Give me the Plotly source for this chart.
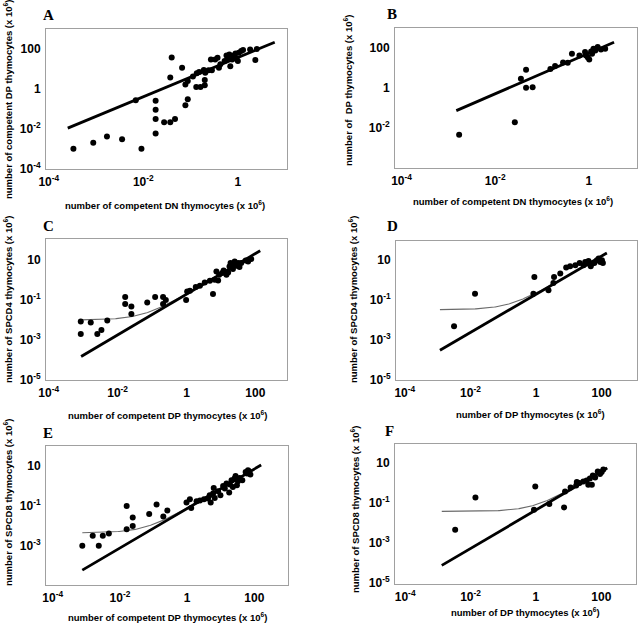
import numpy as np
import plotly.graph_objects as go

# ---------------- data (log10 of cell numbers, x 10^6) ----------------
a_x = [-3.48, -3.06, -2.77, -2.45, -2.04, -2.16, -1.74, -1.74, -1.74, -1.74, -1.56, -1.43,
       -1.33, -1.40, -1.43, -1.18, -1.11, -1.06, -1.11, -1.06, -0.88, -0.79, -0.70, -0.70,
       -0.95, -0.87, -0.82, -0.72, -0.69, -0.62, -0.57, -0.55, -0.48, -0.43, -0.40, -0.37,
       -0.28, -0.24, -0.21, -0.18, -0.16, -0.12, -0.09, -0.05, -0.03, 0.00, 0.02, 0.07,
       0.11, 0.26, 0.40, 0.37]
a_y = [-3.01, -2.71, -2.40, -2.53, -3.01, -0.58, -0.61, -1.06, -1.52, -2.25, -1.69, -1.69,
       -1.52, 1.55, 0.55, 1.04, -0.83, -0.53, 0.20, 0.38, 0.08, 0.08, 0.17, 0.43,
       0.60, 0.76, 0.83, 0.93, 0.79, 0.91, 1.45, 0.91, 1.45, 1.54, 1.04, 1.21,
       1.37, 1.65, 1.49, 1.70, 1.12, 1.45, 1.65, 1.75, 1.49, 1.37, 1.79, 1.87,
       1.92, 1.95, 1.98, 1.42]
a_fit = dict(slope=0.98, intercept=1.55, x0=-3.60, x1=0.78)

b_x = [-2.77, -1.58, -1.45, -1.34, -1.34, -1.20, -0.82, -0.72, -0.55, -0.45, -0.36, -0.20,
       -0.08, -0.06, -0.02, 0.01, 0.05, 0.07, 0.10, 0.14, 0.19, 0.26, 0.35]
b_y = [-2.32, -1.70, 0.47, 0.92, 0.02, 0.05, 0.95, 1.10, 1.28, 1.27, 1.72, 1.63,
       1.80, 1.63, 1.53, 1.43, 1.83, 1.72, 1.97, 1.88, 2.05, 1.93, 1.97]
b_fit = dict(slope=1.01, intercept=1.74, x0=-2.83, x1=0.54)

c_x = [-3.07, -3.07, -2.78, -2.59, -2.47, -2.30, -1.78, -1.78, -1.60, -1.60, -1.14, -0.91,
       -0.68, -0.68, -0.60, -0.01, 0.02, 0.10, 0.27, 0.39, 0.53, 0.68, 0.77, 0.82,
       0.87, 0.95, 0.92, 1.04, 1.08, 1.16, 1.21, 1.25, 1.28, 1.33, 1.37, 1.40,
       1.45, 1.50, 1.54, 1.72, 1.79, 1.88, 1.35, 1.59]
c_y = [-2.10, -2.72, -2.15, -2.72, -2.52, -2.05, -0.88, -1.22, -1.35, -1.72, -1.15, -0.88,
       -0.88, -1.22, -1.02, -1.02, -0.60, -0.57, -0.38, -0.32, -0.15, -0.07, -0.72, -0.02,
       0.40, 0.23, -0.05, 0.32, 0.45, 0.23, 0.35, 0.65, 0.82, 0.57, 0.77, 0.90,
       0.68, 0.82, 0.62, 0.95, 0.90, 1.02, 0.52, 0.82]
c_fit = dict(slope=1.015, intercept=-0.74, x0=-3.06, x1=2.14, floor=0.0095)

d_x = [-2.50, -1.86, -0.05, -0.08, 0.38, 0.55, 0.53, 0.74, 0.92, 1.04, 1.20, 1.33,
       1.45, 1.50, 1.55, 1.60, 1.67, 1.70, 1.78, 1.86, 1.91, 1.96, 2.01, 2.04]
d_y = [-2.31, -0.68, 0.16, -0.68, -0.51, 0.16, -0.14, 0.33, 0.63, 0.69, 0.74, 0.86,
       0.74, 0.91, 0.83, 0.96, 0.69, 0.83, 0.86, 0.99, 1.08, 0.91, 0.99, 0.86]
d_fit = dict(slope=0.957, intercept=-0.71, x0=-2.93, x1=2.16, floor=0.033)

e_x = [-3.12, -2.81, -2.63, -2.51, -2.33, -1.80, -1.80, -1.62, -1.62, -1.13, -0.91, -0.71,
       -0.59, -0.02, 0.08, 0.12, 0.28, 0.38, 0.50, 0.62, 0.67, 0.70, 0.77, 0.79,
       0.82, 0.92, 0.99, 1.07, 1.12, 1.17, 1.25, 1.27, 1.32, 1.36, 1.41, 1.44,
       1.48, 1.51, 1.56, 1.64, 1.74, 1.78, 1.84, 1.88, 1.81]
e_y = [-3.01, -2.51, -3.01, -2.51, -2.39, -1.01, -2.18, -1.59, -2.01, -1.41, -0.94, -1.54,
       -1.24, -0.84, -0.68, -1.11, -0.78, -0.74, -0.68, -0.64, -0.48, -0.84, -0.39, -0.11,
       -0.61, -0.28, -0.48, -0.01, -0.14, 0.11, -0.34, 0.06, 0.28, -0.06, 0.36, 0.49,
       0.03, 0.23, 0.39, 0.28, 0.69, 0.61, 0.73, 0.56, 0.78]
e_fit = dict(slope=0.989, intercept=-1.14, x0=-3.12, x1=2.20, floor=0.0044)

f_x = [-2.47, -1.85, -0.02, -0.06, 0.41, 0.86, 0.89, 1.06, 1.23, 1.25, 1.33, 1.45,
       1.55, 1.60, 1.65, 1.71, 1.74, 1.81, 1.89, 1.96, 2.01, 2.06]
f_y = [-2.33, -0.71, -0.16, -1.33, -1.04, -1.21, -0.41, -0.21, -0.11, 0.06, 0.01, 0.09,
       0.13, -0.08, 0.23, -0.08, 0.38, 0.29, 0.59, 0.46, 0.56, 0.68]
f_fit = dict(slope=0.962, intercept=-1.34, x0=-2.88, x1=2.18, floor=0.039)

xt_ab = [1e-4, 1e-2, 1]
xt_ab_text = ["10<sup>-4</sup>", "10<sup>-2</sup>", "1"]
yt_ab = [1e-4, 1e-2, 1, 100]
yt_ab_text = ["10<sup>-4</sup>", "10<sup>-2</sup>", "1", "100"]
xt_cf = [1e-4, 1e-2, 1, 100]
xt_cf_text = ["10<sup>-4</sup>", "10<sup>-2</sup>", "1", "100"]
yt_cf = [1e-5, 1e-3, 1e-1, 10]
yt_cf_text = ["10<sup>-5</sup>", "10<sup>-3</sup>", "10<sup>-1</sup>", "10"]

panels = [
    dict(letter="A", x=a_x, y=a_y, fit=a_fit,
         xtitle="number of competent DN thymocytes (x 10<sup>6</sup>)",
         ytitle="number of competent DP thymocytes (x 10<sup>6</sup>)"),
    dict(letter="B", x=b_x, y=b_y, fit=b_fit,
         xtitle="number of competent DN thymocytes (x 10<sup>6</sup>)",
         ytitle="number of  DP thymocytes (x 10<sup>6</sup>)"),
    dict(letter="C", x=c_x, y=c_y, fit=c_fit,
         xtitle="number of competent DP thymocytes (x 10<sup>6</sup>)",
         ytitle="number of SPCD4 thymocytes (x 10<sup>6</sup>)"),
    dict(letter="D", x=d_x, y=d_y, fit=d_fit,
         xtitle="number of DP thymocytes (x 10<sup>6</sup>)",
         ytitle="number of SPCD4 thymocytes (x 10<sup>6</sup>)"),
    dict(letter="E", x=e_x, y=e_y, fit=e_fit,
         xtitle="number of competent DP thymocytes (x 10<sup>6</sup>)",
         ytitle="number of SPCD8 thymocytes (x 10<sup>6</sup>)"),
    dict(letter="F", x=f_x, y=f_y, fit=f_fit,
         xtitle="number of DP thymocytes (x 10<sup>6</sup>)",
         ytitle="number of SPCD8 thymocytes (x 10<sup>6</sup>)"),
]

# ---------------- layout geometry (pixels) ----------------
W, H = 640, 625
boxes = [(46, 287, 29, 169), (395, 637, 28, 168), (46, 287, 239, 380),
         (396, 637, 241, 380), (46, 288, 446, 585), (395, 636, 444, 584)]
xranges = [(-4.06, 1.04), (-4.14, 1.03), (-4.08, 2.92), (-4.27, 3.08), (-4.2, 3.0), (-4.31, 3.06)]
yranges = [(-4.02, 2.975), (-3.98, 3.0), (-5.02, 2.02), (-5.0, 1.96), (-4.97, 1.99), (-5.04, 1.96)]
xtitle_pos = [(165, 205), (513, 201), (167, 415), (530, 414), (167, 617), (525, 612)]
ytitle_pos = [(8, 100), (348, 91), (8, 300), (353, 300), (8, 503), (355, 510)]
letter_pos = [(48, 15), (392, 14), (48, 226), (392, 226), (48, 433), (389, 431)]

fig = go.Figure()
layout = dict(template="none", width=W, height=H, margin=dict(l=0, r=0, t=0, b=0, pad=0),
              autosize=False, paper_bgcolor="white", plot_bgcolor="white", showlegend=False,
              font=dict(family="Liberation Sans, Arial, sans-serif", color="black"))
annotations = []
tickfont = dict(family="Liberation Sans, Arial, sans-serif", size=12, color="black", weight="bold")
titlefont = dict(family="Liberation Sans, Arial, sans-serif", size=9.5, color="black", weight="bold")

for i, p in enumerate(panels):
    n = i + 1
    xa = "x" if n == 1 else f"x{n}"
    ya = "y" if n == 1 else f"y{n}"
    xl, xr, yt, yb = boxes[i]
    ab = i < 2
    layout[f"xaxis{'' if n == 1 else n}"] = dict(
        type="log", range=list(xranges[i]), domain=[xl / W, xr / W], anchor=ya,
        automargin=False, showgrid=False, zeroline=False, showline=True, mirror=True,
        linecolor="#a0a0a0", linewidth=1, ticks="", ticklabelstandoff=2,
        tickvals=xt_ab if ab else xt_cf, ticktext=xt_ab_text if ab else xt_cf_text,
        tickfont=tickfont)
    layout[f"yaxis{'' if n == 1 else n}"] = dict(
        type="log", range=list(yranges[i]), domain=[1 - yb / H, 1 - yt / H], anchor=xa,
        automargin=False, showgrid=False, zeroline=False, showline=True, mirror=True,
        linecolor="#a0a0a0", linewidth=1, ticks="", ticklabelstandoff=2,
        tickvals=yt_ab if ab else yt_cf, ticktext=yt_ab_text if ab else yt_cf_text,
        tickfont=tickfont)

    fit = p["fit"]
    lx = np.linspace(fit["x0"], fit["x1"], 200)
    ly = fit["slope"] * lx + fit["intercept"]
    if "floor" in fit:
        cy = np.log10(10 ** ly + fit["floor"])
        fig.add_trace(go.Scatter(x=10 ** lx, y=10 ** cy, mode="lines", xaxis=xa, yaxis=ya,
                                 line=dict(color="#6a6a6a", width=1.1), hoverinfo="skip"))
    fig.add_trace(go.Scatter(x=10 ** np.array(p["x"]), y=10 ** np.array(p["y"]), mode="markers",
                             xaxis=xa, yaxis=ya, marker=dict(color="black", size=6, line=dict(width=0))))
    fig.add_trace(go.Scatter(x=10 ** lx, y=10 ** ly, mode="lines", xaxis=xa, yaxis=ya,
                             line=dict(color="black", width=2.8), hoverinfo="skip"))

    tx, ty = xtitle_pos[i]
    annotations.append(dict(text=p["xtitle"], x=tx / W, y=1 - ty / H, xref="paper", yref="paper",
                            showarrow=False, xanchor="center", yanchor="middle", font=titlefont))
    tx, ty = ytitle_pos[i]
    annotations.append(dict(text=p["ytitle"], x=tx / W, y=1 - ty / H, xref="paper", yref="paper",
                            showarrow=False, xanchor="center", yanchor="middle", textangle=-90,
                            font=titlefont))
    tx, ty = letter_pos[i]
    annotations.append(dict(text=p["letter"], x=tx / W, y=1 - ty / H, xref="paper", yref="paper",
                            showarrow=False, xanchor="center", yanchor="middle",
                            font=dict(family="Liberation Serif, Times New Roman, serif", size=15,
                                      color="black", weight="bold")))

layout["annotations"] = annotations
fig.update_layout(**layout)
fig.write_html("out.html", config={"displayModeBar": False},
               post_script="document.body.style.margin='0';document.body.style.padding='0';"
                           "document.body.style.overflow='hidden';")
